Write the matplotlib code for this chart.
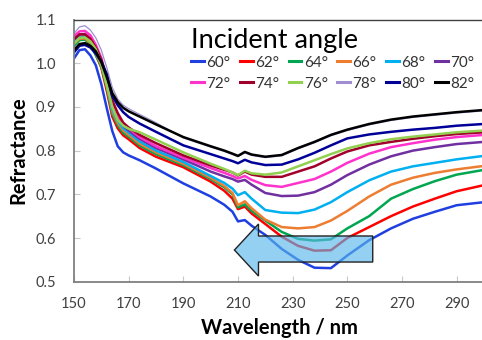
import matplotlib
matplotlib.use("Agg")
import matplotlib.pyplot as plt
from matplotlib.patches import Polygon

plt.rcParams["font.family"] = ["Lato", "DejaVu Sans"]

# wavelength grid (nm)
wl = [150, 152, 154, 156, 158, 160, 162, 164, 166, 168, 170, 174, 180, 190, 200, 205, 208, 210,
      212.5, 215, 220, 226, 232, 238, 244, 250, 258, 266, 274, 282, 290, 300]

angles = ["60°", "62°", "64°", "66°", "68°", "70°", "72°", "74°", "76°", "78°", "80°", "82°"]
colors = ["#1f3fe0", "#ff0000", "#00a650", "#ed7d31", "#00b0f0", "#7030a0",
          "#ff33cc", "#a0002a", "#92d050", "#9f8fd0", "#000099", "#000000"]

r60 = [1.011, 1.030, 1.032, 1.018, 0.995, 0.952, 0.897, 0.845, 0.810, 0.796, 0.789, 0.778, 0.759, 0.725, 0.695, 0.676, 0.660, 0.638,
       0.641, 0.628, 0.607, 0.575, 0.550, 0.532, 0.531, 0.560, 0.595, 0.622, 0.644, 0.660, 0.675, 0.682]
r62 = [1.050, 1.060, 1.060, 1.048, 1.020, 0.990, 0.937, 0.878, 0.851, 0.835, 0.826, 0.806, 0.786, 0.762, 0.729, 0.708, 0.690, 0.666,
       0.672, 0.656, 0.632, 0.603, 0.582, 0.571, 0.572, 0.600, 0.625, 0.650, 0.672, 0.690, 0.707, 0.721]
r64 = [1.040, 1.053, 1.054, 1.043, 1.018, 0.992, 0.945, 0.885, 0.858, 0.841, 0.832, 0.812, 0.792, 0.767, 0.735, 0.716, 0.700, 0.670,
       0.677, 0.662, 0.640, 0.614, 0.598, 0.594, 0.597, 0.622, 0.650, 0.690, 0.712, 0.730, 0.745, 0.756]
r66 = [1.045, 1.056, 1.057, 1.046, 1.022, 0.995, 0.948, 0.890, 0.863, 0.846, 0.836, 0.816, 0.796, 0.770, 0.738, 0.719, 0.703, 0.675,
       0.684, 0.668, 0.642, 0.625, 0.622, 0.625, 0.640, 0.662, 0.695, 0.722, 0.738, 0.749, 0.757, 0.765]
r68 = [1.050, 1.060, 1.061, 1.050, 1.028, 1.000, 0.952, 0.895, 0.868, 0.851, 0.841, 0.821, 0.800, 0.774, 0.742, 0.726, 0.713, 0.698,
       0.705, 0.690, 0.664, 0.658, 0.657, 0.665, 0.682, 0.705, 0.732, 0.752, 0.764, 0.772, 0.780, 0.788]
r70 = [1.055, 1.066, 1.067, 1.056, 1.035, 1.006, 0.958, 0.905, 0.875, 0.857, 0.846, 0.827, 0.806, 0.780, 0.752, 0.741, 0.735, 0.729,
       0.733, 0.722, 0.703, 0.696, 0.697, 0.705, 0.722, 0.744, 0.768, 0.787, 0.800, 0.808, 0.815, 0.820]
r72 = [1.062, 1.073, 1.074, 1.064, 1.042, 1.012, 0.963, 0.910, 0.880, 0.862, 0.851, 0.831, 0.810, 0.784, 0.760, 0.749, 0.742, 0.736,
       0.742, 0.733, 0.721, 0.717, 0.726, 0.735, 0.752, 0.772, 0.793, 0.808, 0.817, 0.825, 0.831, 0.836]
r74 = [1.055, 1.066, 1.066, 1.056, 1.036, 1.008, 0.966, 0.915, 0.886, 0.864, 0.853, 0.836, 0.817, 0.789, 0.766, 0.756, 0.750, 0.743,
       0.752, 0.745, 0.740, 0.740, 0.752, 0.764, 0.782, 0.798, 0.812, 0.820, 0.827, 0.833, 0.838, 0.842]
r76 = [1.045, 1.058, 1.059, 1.050, 1.032, 1.000, 0.950, 0.900, 0.870, 0.857, 0.850, 0.842, 0.825, 0.796, 0.770, 0.758, 0.750, 0.744,
       0.754, 0.748, 0.745, 0.750, 0.764, 0.778, 0.792, 0.805, 0.817, 0.826, 0.832, 0.837, 0.842, 0.846]
r78 = [1.068, 1.083, 1.086, 1.076, 1.058, 1.030, 0.990, 0.945, 0.918, 0.904, 0.896, 0.883, 0.864, 0.829, 0.808, 0.798, 0.791, 0.786,
       0.795, 0.789, 0.784, 0.788, 0.804, 0.818, 0.834, 0.846, 0.859, 0.869, 0.876, 0.881, 0.886, 0.891]
r80 = [1.025, 1.040, 1.042, 1.036, 1.022, 1.004, 0.975, 0.925, 0.904, 0.888, 0.877, 0.862, 0.843, 0.812, 0.792, 0.782, 0.776, 0.771,
       0.779, 0.773, 0.767, 0.768, 0.780, 0.795, 0.812, 0.828, 0.837, 0.843, 0.848, 0.852, 0.857, 0.861]
r82 = [1.030, 1.044, 1.046, 1.040, 1.027, 1.003, 0.968, 0.932, 0.911, 0.898, 0.890, 0.878, 0.860, 0.831, 0.810, 0.800, 0.793, 0.788,
       0.797, 0.791, 0.786, 0.790, 0.806, 0.820, 0.836, 0.848, 0.861, 0.871, 0.878, 0.883, 0.888, 0.893]

series = [r60, r62, r64, r66, r68, r70, r72, r74, r76, r78, r80, r82]

fig = plt.figure(figsize=(4.82, 3.40), dpi=100)
ax = fig.add_axes([0.1535, 0.1715, 0.8506, 0.771])

# lavender first so the others cover it
order = [9, 0, 1, 2, 3, 4, 5, 6, 7, 8, 10, 11]
handles = [None] * 12
for i in order:
    lw = 0.9 if i == 9 else 1.8
    ln, = ax.plot(wl, series[i], color=colors[i], lw=lw, label=angles[i], zorder=2,
                  solid_joinstyle="round")
    handles[i] = ln

# blue shift arrow, semi transparent over the lines
arrow = Polygon([(208.7, 0.5725), (217.5, 0.632), (217.5, 0.6046), (259.3, 0.6046),
                 (259.3, 0.545), (217.5, 0.545), (217.5, 0.513)], closed=True,
                facecolor=(0.35, 0.72, 0.92, 0.65), edgecolor="#222222", lw=1.0, zorder=3)
ax.add_patch(arrow)

ax.set_xlim(150, 300)
ax.set_ylim(0.5, 1.1)
ax.set_xticks(range(150, 300, 20))
ax.set_yticks([0.5, 0.6, 0.7, 0.8, 0.9, 1.0, 1.1])
ax.set_yticklabels(["0.5", "0.6", "0.7", "0.8", "0.9", "1.0", "1.1"])
ax.tick_params(direction="in", length=4, color="#c8c8c8", labelsize=10.5, labelcolor="#404040")
ax.tick_params(axis="x", pad=11)
ax.tick_params(axis="y", pad=13)
for s in ["left", "bottom"]:
    ax.spines[s].set_color("#808080")
    ax.spines[s].set_linewidth(1.3)
ax.spines["top"].set_color("#404040")
ax.spines["top"].set_linewidth(1.0)
ax.spines["right"].set_visible(False)

ax.set_xlabel("Wavelength / nm", fontsize=14.5, fontweight="bold", labelpad=5)
ax.set_ylabel("Refractance", fontsize=14.5, fontweight="bold", labelpad=5)

# legend filled column-wise, so interleave the two rows
leg_order = [0, 6, 1, 7, 2, 8, 3, 9, 4, 10, 5, 11]
leg = fig.legend(handles=[handles[k] for k in leg_order], ncol=6, title="Incident angle",
                 frameon=False, loc="upper left", bbox_to_anchor=(191 / 482, 1 - 28 / 340),
                 fontsize=11, title_fontsize=19.5, handlelength=0.85, handletextpad=0.15,
                 columnspacing=0.62, labelspacing=0.45, alignment="left",
                 borderpad=0, borderaxespad=0)
leg._legend_box.sep = 2
for h in leg.get_lines():
    h.set_linewidth(2.2)
    h.set_linestyle("-")
for t in leg.get_texts():
    t.set_color("#333333")

fig.savefig("out.png", dpi=100)
